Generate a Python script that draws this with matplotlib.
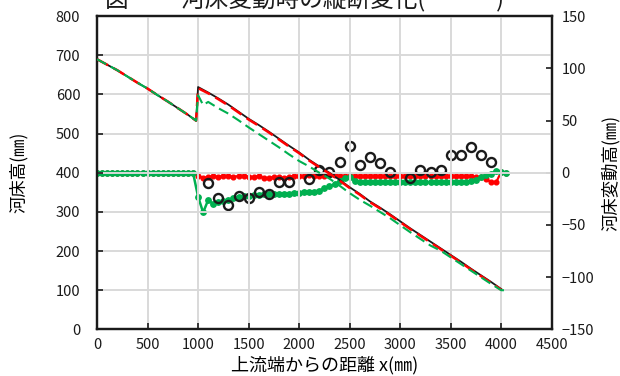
import numpy as np
import matplotlib
matplotlib.use("Agg")
import matplotlib.pyplot as plt

plt.rcParams['font.family'] = ['Noto Sans CJK JP', 'DejaVu Sans']

RED = "#FF0000"
GREEN = "#00B050"

# longitudinal bed profile (left axis, mm)
bed_x = [0, 100, 200, 300, 400, 500, 600, 700, 800, 900, 980,
         1000, 1100, 1200, 1300, 1400, 1500, 1600, 1700, 1800, 1900,
         2000, 2100, 2200, 2300, 2400, 2500, 2600, 2700, 2800, 2900,
         3000, 3100, 3200, 3300, 3400, 3500, 3600, 3700, 3800, 3900, 4000]
bed_measured = [690, 676, 662, 646, 630, 615, 598, 582, 565, 548, 533,
                619, 605, 590, 574, 556, 538, 522, 505, 487, 469,
                452, 433, 416, 400, 382, 363, 346, 327, 311, 294,
                276, 258, 241, 224, 207, 190, 173, 155, 138, 121, 103]
bed_calc_a = [690, 676, 662, 646, 630, 615, 598, 582, 565, 548, 533,
              616, 603, 588, 572, 554, 536, 520, 503, 485, 467,
              450, 431, 414, 398, 380, 361, 344, 325, 309, 292,
              274, 256, 239, 222, 205, 188, 171, 153, 136, 119, 101]

bed_x_b = [0, 100, 200, 300, 400, 500, 600, 700, 800, 900, 980,
           1000, 1050, 1100, 1200, 1300, 1400, 1500, 1600, 1700, 1800, 1900,
           2000, 2100, 2200, 2300, 2400, 2500, 2600, 2700, 2800, 2900,
           3000, 3100, 3200, 3300, 3400, 3500, 3600, 3700, 3800, 3900, 4000, 4050]
bed_calc_b = [690, 676, 662, 646, 630, 615, 598, 582, 565, 548, 533,
              598, 573, 581, 565, 551, 534, 516, 499, 482, 465, 447,
              430, 416, 400, 385, 367, 348, 331, 316, 300, 284,
              266, 248, 231, 214, 201, 184, 167, 150, 133, 116, 100, 100]

# bed change (right axis, mm), computed at 50 mm stations
stations = np.arange(0, 4051, 50)
dz_calc_a = [0] * 20 + [
    -3, -5, -4, -3, -4, -3, -3, -4, -3, -3,
    -4, -4, -3, -5, -5, -4, -4, -5, -4, -3,
    -3, -3, -2, -3, -3, -3, -2, -2, -3, -3,
    -3, -3, -3, -3, -3, -3, -3, -3, -3, -3,
    -3, -3, -3, -3, -3, -3, -3, -3, -3, -3,
    -3, -3, -3, -3, -3, -4, -4, -6, -9, -9,
    1, 0]
dz_calc_b = [0] * 20 + [
    -23, -38, -26, -30, -28, -27, -26, -24, -23, -22,
    -22, -21, -21, -20, -20, -20, -20, -20, -20, -19,
    -19, -18, -18, -18, -17, -15, -13, -11, -8, -5,
    -4, -8] + [-9] * 22 + [-8, -7, -4, -2, -1, 2, 1, 0]

# measured bed change
obs_x = [1100, 1200, 1300, 1400, 1500, 1600, 1700, 1800, 1900,
         2100, 2200, 2300, 2400, 2500, 2600, 2700, 2800, 2900,
         3100, 3200, 3300, 3400, 3500, 3600, 3700, 3800, 3900]
obs_dz = [-10, -24, -31, -22, -24, -18, -20, -9, -9,
          -6, 3, 1, 10, 26, 7, 15, 9, 1,
          -5, 3, 1, 3, 17, 17, 25, 17, 10]

fig = plt.figure(figsize=(6.2, 3.76), dpi=100)
ax = fig.add_axes([0.1565, 0.124, 0.7335, 0.833])
ax2 = ax.twinx()

ax.set_zorder(ax2.get_zorder() + 1)
ax.patch.set_visible(False)

ax2.plot(stations, dz_calc_a, color=RED, lw=1.6, marker='o', ms=3.4, zorder=3)
ax2.plot(stations, dz_calc_b, color=GREEN, lw=1.8, marker='o', ms=3.9, zorder=4)
ax2.plot(obs_x, obs_dz, ls='none', marker='o', ms=6.5, mfc='none', mec='#1a1a1a',
         mew=1.7, zorder=5)

ax.plot(bed_x, bed_measured, color='#1a1a1a', lw=1.3, zorder=3)
ax.plot(bed_x, bed_calc_a, color=RED, lw=1.8, ls=(0, (5, 2.5)), zorder=4)
ax.plot(bed_x_b, bed_calc_b, color=GREEN, lw=1.5, ls=(0, (5, 2.5)), zorder=5)

ax.set_xlim(0, 4500)
ax.set_ylim(0, 800)
ax.set_xticks(range(0, 4501, 500))
ax.set_yticks(range(0, 801, 100))
ax2.set_ylim(-150, 150)
ax2.set_yticks(range(-150, 151, 50))
ax2.set_yticklabels([f"{v}".replace('-', '\u2212') for v in range(-150, 151, 50)])

ax.grid(True, color='#D9D9D9', lw=1.4)
ax.set_axisbelow(True)

for a in (ax, ax2):
    for s in a.spines.values():
        s.set_color('#1a1a1a')
        s.set_linewidth(1.6)
    a.tick_params(direction='in', length=4, width=1.2, labelsize=10.5, colors='#1a1a1a')
ax.tick_params(axis='y', pad=12)
ax.tick_params(axis='x', pad=6)
ax2.tick_params(axis='y', pad=7)

ax.set_xlabel("上流端からの距離 x(㎜)", fontsize=13, labelpad=3)
ax.set_ylabel("河床高(㎜)", fontsize=12.5, labelpad=20)
ax2.set_ylabel("河床変動高(㎜)", fontsize=12.5, labelpad=5)

# figure caption, partly above the top edge
fig.text(105 / 620, 1 - 6 / 376, "図－　 河床変動時の縦断変化(　　　)", fontsize=17,
         va='baseline', ha='left', color='#1a1a1a')

fig.savefig("out.png", dpi=100)
